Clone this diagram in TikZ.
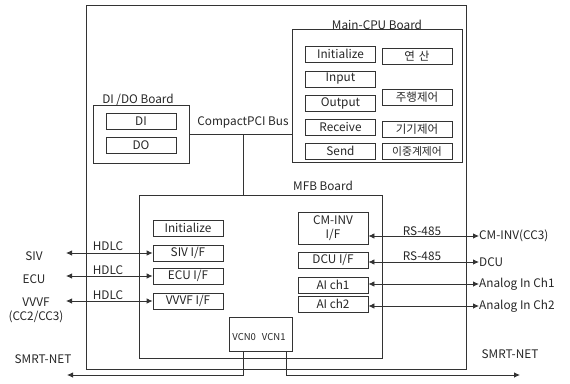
\documentclass[tikz,border=0pt]{standalone}
\usepackage{fontspec}
\setmainfont{Noto Sans CJK KR}
\usetikzlibrary{arrows.meta,calc}
\begin{document}
\begin{tikzpicture}[x=1pt,y=-1pt,
  every node/.style={text=black!85},
  board/.style={draw=black!80, line width=0.9pt, inner sep=0pt},
  box/.style={draw=black!80, line width=0.8pt, minimum height=16pt, minimum width=70pt, inner sep=0pt, font=\fontsize{11.8}{13}\selectfont},
  kbox/.style={box, font=\fontsize{11.5}{13}\selectfont},
  lbl/.style={inner sep=0pt, font=\fontsize{11.8}{13}\selectfont},
  wire/.style={draw=black!80, line width=0.8pt},
  link/.style={wire, {Latex[length=6pt,width=5.5pt]}-{Latex[length=6pt,width=5.5pt]}},
  onearrow/.style={wire, -{Latex[length=6pt,width=5.5pt]}}]
\useasboundingbox (0,0) rectangle (570,383);
% outer frame
\node[board, minimum width=380pt, minimum height=364pt] (outer) at (276,187) {};
% Main-CPU board
\node[board, minimum width=170pt, minimum height=133pt] (cpu) at (377,95.5) {};
\node[lbl, anchor=south] (cpulbl) at ([yshift=-1pt]cpu.north) {Main-CPU Board};
\node[box] (cinit) at (340.5,54) {Initialize};
\node[box] (cin) at (340.5,79) {Input};
\node[box] (cout) at (340.5,103) {Output};
\node[box] (crecv) at (340.5,127.5) {Receive};
\node[box] (csend) at (340.5,151) {Send};
\node[kbox] (kcalc) at (417,56) {연\hspace{4pt}산};
\node[kbox] (kdrive) at (417,97) {주행제어};
\node[kbox] (kdev) at (417,129) {기기제어};
\node[kbox, font=\fontsize{10.8}{12}\selectfont] (kdual) at (417,151.5) {이중계제어};
% DI/DO board
\node[board, minimum width=96pt, minimum height=58pt] (dido) at (141,134) {};
\node[lbl, anchor=south] (didolbl) at ([xshift=-3pt,yshift=-1pt]dido.north) {DI /DO Board};
\node[box] (di) at (141,121.5) {DI};
\node[box] (do) at (141,145.5) {DO};
% bus
\node[lbl] (buslbl) at (243,122) {CompactPCI Bus};
\draw[wire] (dido.east) -- (cpu.west |- dido.east);
\coordinate (busT) at (243,134);
% MFB board
\node[board, minimum width=243pt, minimum height=163pt] (mfb) at (260.5,276.5) {};
\node[lbl] (mfblbl) at (323,186) {MFB Board};
\draw[wire] (busT) -- (busT |- mfb.north);
\node[box] (minit) at (188,228) {Initialize};
\node[box] (msiv) at (188,253) {SIV I/F};
\node[box] (mecu) at (188,276) {ECU I/F};
\node[box] (mvvvf) at (188,301) {VVVF I/F};
\node[box, minimum height=32pt, align=center, font=\fontsize{11.8}{14}\selectfont] (mcm) at (333,228) {CM-INV\\I/F};
\node[box] (mdcu) at (333,260) {DCU I/F};
\node[box] (mai1) at (333,285) {AI ch1};
\node[box] (mai2) at (333,304) {AI ch2};
% VCN
\node[board, line width=0.8pt, minimum width=63pt, minimum height=34pt] (vcn) at (260.5,334) {};
\node[lbl, font=\fontsize{9.5}{11}\selectfont] (vcntxt) at (259,337) {VCN0\hspace{6pt}VCN1};
% left externals
\node[lbl] (siv) at (34,256) {SIV};
\node[lbl] (ecu) at (34,279) {ECU};
\node[lbl, align=center, font=\fontsize{11.8}{14}\selectfont] (vvvf) at (36,310) {VVVF\\(CC2/CC3)};
\coordinate (sivL) at (66,253);
\coordinate (ecuL) at (66,276);
\coordinate (vvvfL) at (66,301);
\draw[link] (sivL) -- (msiv.west);
\draw[link] (ecuL) -- (mecu.west);
\draw[link] (vvvfL) -- (mvvvf.west);
\node[lbl] (h1) at (108,246) {HDLC};
\node[lbl] (h2) at (108,270) {HDLC};
\node[lbl] (h3) at (108,295) {HDLC};
% right externals
\node[lbl, anchor=west] (ecm) at (479,236) {CM-INV(CC3)};
\node[lbl, anchor=west] (edcu) at (479,262) {DCU};
\node[lbl, anchor=west] (eai1) at (479,284) {Analog In Ch1};
\node[lbl, anchor=west] (eai2) at (479,306) {Analog In Ch2};
\draw[link] (ecm.west -| mcm.east) -- (ecm.west);
\draw[link] (edcu.west -| mdcu.east) -- (edcu.west);
\draw[link] (eai1.west -| mai1.east) -- (eai1.west);
\draw[link] (eai2.west -| mai2.east) -- (eai2.west);
\node[lbl] (rs1) at (422,231) {RS-485};
\node[lbl] (rs2) at (422,256) {RS-485};
% SMRT-NET
\node[lbl] (smrtl) at (43,359) {SMRT-NET};
\node[lbl] (smrtr) at (510,354) {SMRT-NET};
\coordinate (netL) at (67,375);
\coordinate (netR) at (520,375);
\draw[onearrow] ([xshift=-17.5pt]vcn.south) |- (netL);
\draw[onearrow] ([xshift=25.5pt]vcn.south) |- (netR);
\end{tikzpicture}
\end{document}
